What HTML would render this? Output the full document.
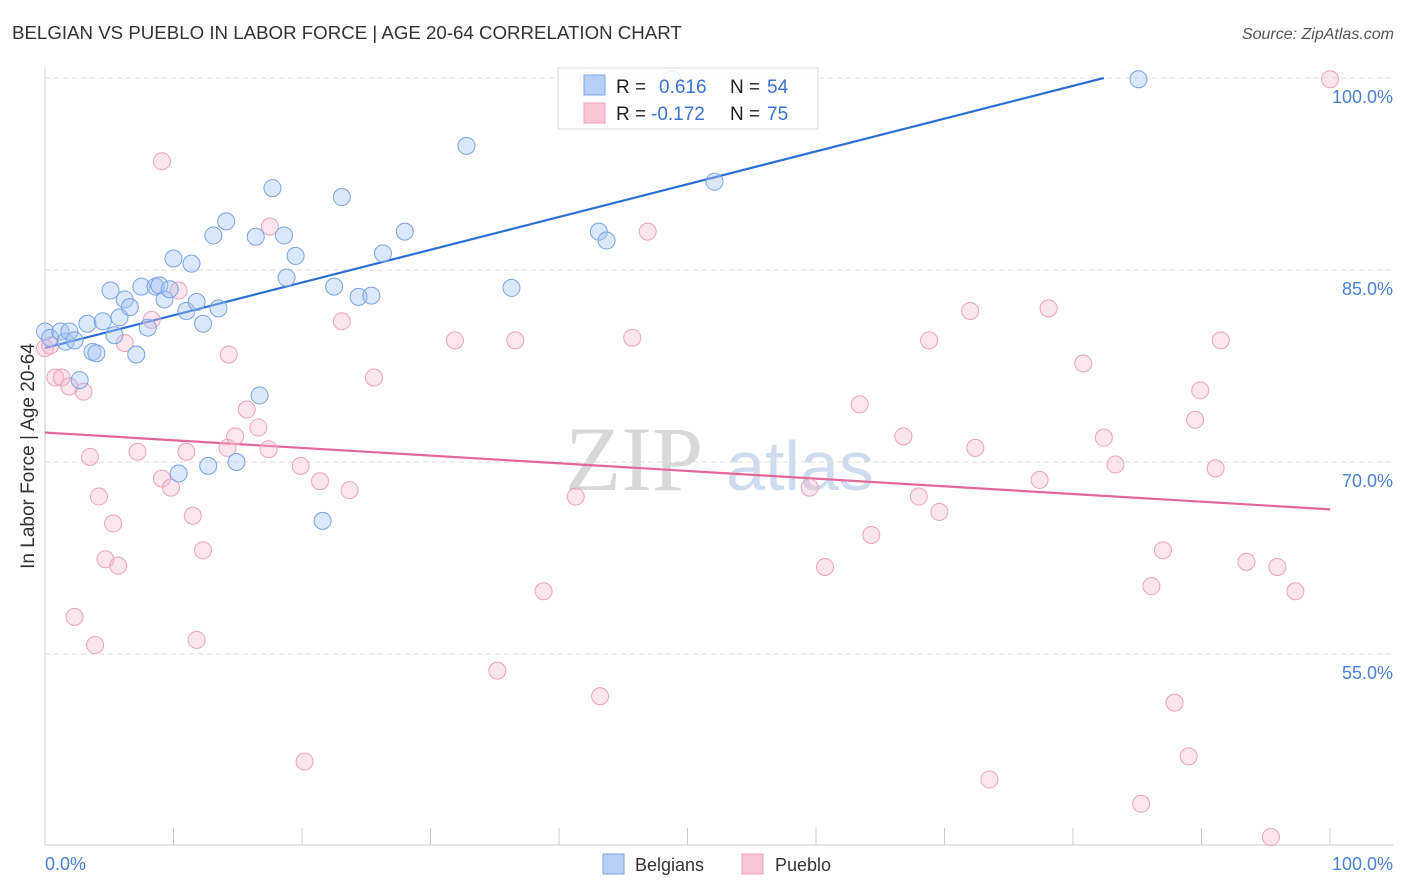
<!DOCTYPE html>
<html><head><meta charset="utf-8"><style>
body{margin:0;background:#fff;font-family:"Liberation Sans",sans-serif;}
svg{display:block}
</style></head><body>
<svg id="chart" width="1406" height="892">
<text x="12" y="39" font-size="18.7" fill="#333">BELGIAN VS PUEBLO IN LABOR FORCE | AGE 20-64 CORRELATION CHART</text>
<text x="1394" y="39" font-size="16" fill="#555" font-style="italic" text-anchor="end">Source: ZipAtlas.com</text>
<text x="634" y="490" font-size="92" fill="#d8d8d8" text-anchor="middle" font-family="Liberation Serif,serif">ZIP</text>
<text x="800" y="490" font-size="70" fill="#cfdcf0" text-anchor="middle">atlas</text>
<g id="grid"></g>
<g id="axes"></g>
<g id="lines"></g>
<g id="pts"></g>
<text transform="translate(34,456) rotate(-90)" font-size="19" fill="#333" text-anchor="middle">In Labor Force | Age 20-64</text>
<text x="45" y="870" font-size="18" fill="#4a7fd6">0.0%</text>
<text x="1393" y="870" font-size="18" fill="#4a7fd6" text-anchor="end">100.0%</text>
<g>
<rect x="558" y="68" width="260" height="61" fill="rgba(255,255,255,0.85)" stroke="#ddd"/>
<rect x="584" y="75" width="21" height="20" fill="#b7cff5" stroke="#7fa6e6"/>
<rect x="584" y="103" width="21" height="20" fill="#fbc6d6" stroke="#efa1bb"/>
<text x="616" y="93" font-size="19" fill="#222">R =</text><text x="659" y="93" font-size="19" fill="#3b73d1">0.616</text>
<text x="730" y="93" font-size="19" fill="#222">N =</text><text x="767" y="93" font-size="19" fill="#3b73d1">54</text>
<text x="616" y="120" font-size="19" fill="#222">R =</text><text x="651" y="120" font-size="19" fill="#3b73d1">-0.172</text>
<text x="730" y="120" font-size="19" fill="#222">N =</text><text x="767" y="120" font-size="19" fill="#3b73d1">75</text>
</g>
<g>
<rect x="603" y="854" width="21" height="20" fill="#b7cff5" stroke="#7fa6e6"/>
<text x="635" y="871" font-size="18" fill="#333">Belgians</text>
<rect x="742" y="854" width="21" height="20" fill="#fbc6d6" stroke="#efa1bb"/>
<text x="775" y="871" font-size="18" fill="#333">Pueblo</text>
</g>
</svg>
<script>
const belgX=[0,0.4,1.2,1.6,1.9,2.3,3.3,3.7,4.0,2.7,4.5,5.1,5.4,5.8,6.2,6.6,7.1,7.5,8.0,8.6,8.9,9.3,9.7,10.0,11.0,11.4,11.8,12.3,13.1,13.5,14.1,12.7,10.4,14.9,16.4,16.7,17.7,18.6,18.8,19.5,21.6,22.5,23.1,24.4,25.4,26.3,28.0,32.8,36.3,43.1,43.7,52.1,85.1,48.8];
const belgY=[80.2,79.7,80.2,79.4,80.2,79.5,80.8,78.6,78.5,76.4,81.0,83.4,79.9,81.3,82.7,82.1,78.4,83.7,80.5,83.7,83.8,82.7,83.5,85.9,81.8,85.5,82.5,80.8,87.7,82.0,88.8,69.7,69.1,70.0,87.6,75.2,91.4,87.7,84.4,86.1,65.4,83.7,90.7,82.9,83.0,86.3,88.0,94.7,83.6,88.0,87.3,91.9,99.9,99.9];
const puebX=[0,0.4,0.8,1.3,1.9,3.0,3.5,4.2,5.3,4.7,5.7,2.3,3.9,6.2,7.2,8.3,9.1,9.1,9.8,10.4,11.0,11.5,11.8,12.3,14.3,14.2,14.8,15.7,16.6,17.4,17.5,19.9,20.2,21.4,23.1,23.7,25.6,31.9,35.2,36.6,38.8,41.3,43.2,45.7,46.9,59.5,60.7,63.4,64.3,66.8,68.0,68.8,69.6,72.0,72.4,73.5,77.4,78.1,80.8,82.4,83.3,85.3,86.1,87.0,87.9,89.0,89.5,89.9,91.1,91.5,93.5,95.4,95.9,97.3,100,42.3];
const puebY=[78.9,79.1,76.6,76.6,75.9,75.5,70.4,67.3,65.2,62.4,61.9,57.9,55.7,79.3,70.8,81.1,93.5,68.7,68.0,83.4,70.8,65.8,56.1,63.1,78.4,71.1,72.0,74.1,72.7,71.0,88.4,69.7,46.6,68.5,81.0,67.8,76.6,79.5,53.7,79.5,59.9,67.3,51.7,79.7,88.0,68.0,61.8,74.5,64.3,72.0,67.3,79.5,66.1,81.8,71.1,45.2,68.6,82.0,77.7,71.9,69.8,43.3,60.3,63.1,51.2,47.0,73.3,75.6,69.5,79.5,62.2,40.7,61.8,59.9,99.9,99.8];
const belgTrend=[78.9,100.0];
const belgTrendX=[0,82.4];
const puebTrend=[72.3,66.3];
const puebTrendX=[0,100];
const yTicks=[100,85,70,55];
const yTickLabels=["100.0%","85.0%","70.0%","55.0%"];
const xTicks=[0,10,20,30,40,50,60,70,80,90,100];

const X=v=>45+v*12.85;
const Y=v=>78+(100-v)*12.8;
const NS="http://www.w3.org/2000/svg";
function mk(tag,attrs,parent){const e=document.createElementNS(NS,tag);for(const k in attrs)e.setAttribute(k,attrs[k]);document.getElementById(parent).appendChild(e);return e;}

yTicks.forEach((t,i)=>{
  const g=mk('line',{x1:45,x2:1393,y1:Y(t),y2:Y(t),stroke:'#ddd','stroke-dasharray':'5,4'},'grid');
  
  
  const l=mk('text',{x:1393,y:Y(t)+25,'font-size':18,fill:'#4a7fd6','text-anchor':'end'},'grid');
  l.textContent=yTickLabels[i];
  
  
});
const ax=mk('line',{x1:45,x2:45,y1:68,y2:845,stroke:'#ccc'},'axes');


const bx=mk('line',{x1:45,x2:1393,y1:845,y2:845,stroke:'#ccc'},'axes');


xTicks.forEach(t=>{
  const tk=mk('line',{x1:X(t),x2:X(t),y1:828,y2:845,stroke:'#ccc'},'axes');
  
  
});
function dots(xs,ys,fill,stroke,name){
  xs.forEach((x,i)=>{
    const c=mk('circle',{cx:X(x),cy:Y(ys[i]),r:8.5,fill:fill,stroke:stroke,'stroke-width':1},'pts');
    
    
  });
}
dots(puebX,puebY,'rgba(248,180,203,0.35)','#eba3bd','pueblo-point');
dots(belgX,belgY,'rgba(165,195,242,0.4)','#7aa3e3','belgian-point');
const bl=mk('line',{x1:X(belgTrendX[0]),y1:Y(belgTrend[0]),x2:X(belgTrendX[1]),y2:Y(belgTrend[1]),stroke:'#2d6fd6','stroke-width':2.2},'lines');


const pl=mk('line',{x1:X(puebTrendX[0]),y1:Y(puebTrend[0]),x2:X(puebTrendX[1]),y2:Y(puebTrend[1]),stroke:'#e3679a','stroke-width':2.2},'lines');


</script>
</body></html>
